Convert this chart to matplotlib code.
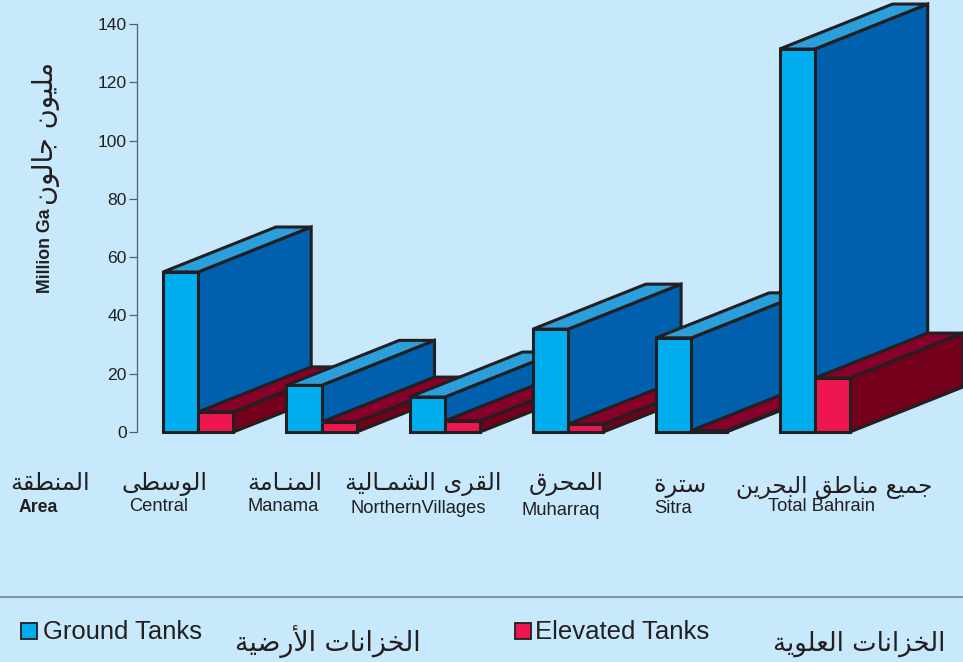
import unicodedata
import matplotlib
matplotlib.use('Agg')
import matplotlib.pyplot as plt
from matplotlib.patches import Polygon, Rectangle

# million gallons per area
areas_ar = ['الوسطى', 'المنـامة', 'القرى الشمـالية', 'المحرق', 'سترة', 'جميع مناطق البحرين']
areas_en = ['Central', 'Manama', 'NorthernVillages', 'Muharraq', 'Sitra', 'Total Bahrain']
ground = [54.9, 16, 12, 35.3, 32.3, 131.4]
elevated = [6.9, 3.4, 3.8, 2.7, 0.5, 18.5]
yticks = [0, 20, 40, 60, 80, 100, 120, 140]

W, H = 963, 662
BG = '#c7e9fb'
INK = '#231f20'
ARABIC = 'DejaVu Sans'
LATIN = 'Liberation Sans'

# matplotlib does not shape arabic, so pick presentation forms by hand
forms = {}
for cp in range(0xFE80, 0xFEFD):
    d = unicodedata.decomposition(chr(cp)).split()
    key = ''.join(chr(int(h, 16)) for h in d[1:])
    forms.setdefault(key, {})[d[0]] = chr(cp)


def shape(s):
    tokens = []
    for c in s:
        if tokens and tokens[-1] == 'ل' and c in 'اأإآ':
            tokens[-1] += c
        else:
            tokens.append(c)
    out = []
    for i, t in enumerate(tokens):
        if t == '\u0640' or t not in forms:
            out.append(t)
            continue
        p = tokens[i - 1] if i > 0 else ' '
        n = tokens[i + 1] if i < len(tokens) - 1 else ' '
        back = p == '\u0640' or '<initial>' in forms.get(p, {})
        fwd = '<initial>' in forms[t] and (n == '\u0640' or n in forms)
        if back and fwd:
            tag = '<medial>'
        elif back:
            tag = '<final>'
        elif fwd:
            tag = '<initial>'
        else:
            tag = '<isolated>'
        out.append(forms[t][tag])
    return ''.join(out)[::-1]


fig = plt.figure(figsize=(W / 100, H / 100), dpi=100, facecolor=BG)
ax = fig.add_axes([0, 0, 1, 1], facecolor=BG)

# one x unit is one group of bars, y is in data units
pitch = 123.3
left = 163
per_px = 140 / 408
ax.set_xlim(-left / pitch, (W - left) / pitch)
ax.set_ylim(-(H - 432) * per_px, 432 * per_px)
bar_w = 35.2 / pitch
depth_x = 113 / pitch
depth_y = 45 * per_px


def box(x, v, front, top, side):
    pts = [
        ([(x + bar_w, 0), (x + bar_w + depth_x, depth_y),
          (x + bar_w + depth_x, v + depth_y), (x + bar_w, v)], side),
        ([(x, v), (x + bar_w, v), (x + bar_w + depth_x, v + depth_y),
          (x + depth_x, v + depth_y)], top),
        ([(x, 0), (x + bar_w, 0), (x + bar_w, v), (x, v)], front),
    ]
    for xy, col in pts:
        ax.add_patch(Polygon(xy, closed=True, facecolor=col, edgecolor=INK,
                             linewidth=2.2, joinstyle='miter'))


for i in range(len(ground)):
    box(i, ground[i], '#00aeef', '#2b9fdc', '#0060ae')
    box(i + bar_w, elevated[i], '#ee1651', '#870029', '#75001c')

# axis
for name in ['top', 'right', 'bottom']:
    ax.spines[name].set_visible(False)
ax.spines['left'].set_position(('data', (137 - left) / pitch))
ax.spines['left'].set_bounds(0, 140)
ax.spines['left'].set_color('#5a5f63')
ax.spines['left'].set_linewidth(0.9)
ax.set_xticks([])
ax.set_yticks(yticks)
ax.tick_params(axis='y', length=5.8, width=0.9, color='#5a5f63', pad=1.5,
               labelsize=12.6, labelcolor=INK)
for t in ax.get_yticklabels():
    t.set_family(LATIN)


def txt(x, y, s, **kw):
    fig.text(x / W, 1 - y / H, s, color=INK, va='baseline', **kw)


# y title
txt(50, 293, 'Million Ga', family=LATIN, weight='bold', size=12.8,
    rotation=90, ha='left', rotation_mode='anchor')
txt(53, 205, shape('مليون جالون'), family=ARABIC, size=19.8,
    rotation=90, ha='left', rotation_mode='anchor')

# category labels
txt(50, 490, shape('المنطقة'), family=ARABIC, size=17.3, ha='center')
txt(38, 512, 'Area', family=LATIN, weight='bold', size=12.7, ha='center')
ar_x = [164, 285, 423, 566, 680, 834]
ar_y = [490, 490, 490, 490, 492, 493]
en_x = [159, 283, 418, 561, 673, 821]
en_y = [511, 511, 513, 515, 513, 511]
ar_size = [17.3, 17.3, 17.3, 17.3, 17.3, 16.6]
for i in range(len(areas_en)):
    txt(ar_x[i], ar_y[i], shape(areas_ar[i]), family=ARABIC, size=ar_size[i], ha='center')
    txt(en_x[i], en_y[i], areas_en[i], family=LATIN, size=13.2, ha='center')

# legend strip
fig.add_artist(plt.Line2D([0, 1], [1 - 597 / H, 1 - 597 / H], color='#6a7f8a', linewidth=1.1))
for x, col in [(21, '#00aeef'), (515, '#ee1651')]:
    fig.add_artist(Rectangle((x / W, 1 - 639 / H), 16 / W, 16 / H, facecolor=col,
                             edgecolor=INK, linewidth=1.3, transform=fig.transFigure))
txt(43, 639, 'Ground Tanks', family=LATIN, size=18.45, ha='left')
txt(535, 639, 'Elevated Tanks', family=LATIN, size=18.5, ha='left')
txt(328, 651, shape('الخزانات الأرضية'), family=ARABIC, size=19.4, ha='center')
txt(859, 651, shape('الخزانات العلوية'), family=ARABIC, size=18.7, ha='center')

fig.savefig('out.png', dpi=100, facecolor=BG)
